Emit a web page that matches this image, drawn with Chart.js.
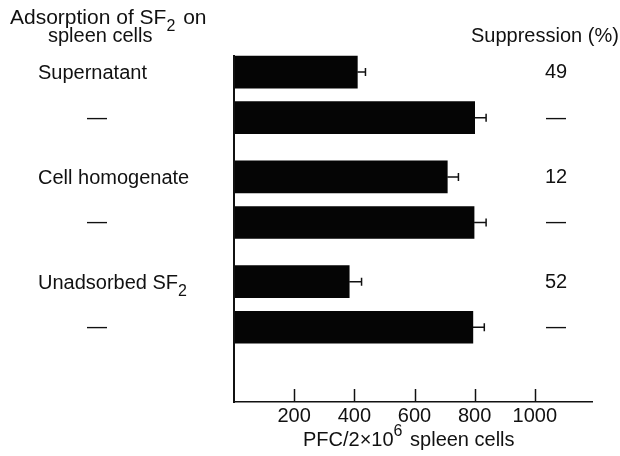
<!DOCTYPE html>
<html><head><meta charset="utf-8">
<script src="https://cdn.jsdelivr.net/npm/chart.js@4.4.0/dist/chart.umd.min.js"></script>
<style>html,body{margin:0;padding:0;background:#fff}</style>
</head><body>
<canvas id="c" width="620" height="456"></canvas>
<script>
const rowLabels = ['Supernatant', '—', 'Cell homogenate', '—', 'Unadsorbed SF₂', '—'];
const pfcValues = [410, 800, 709, 798, 383, 794];
const pfcErrors = [27, 38, 37, 40, 41, 38];
const suppression = ['49', '—', '12', '—', '52', '—'];
const xTicks = [200, 400, 600, 800, 1000];
const headerLeft = ['Adsorption of SF₂ on', 'spleen cells'];
const headerRight = 'Suppression (%)';
const xTitle = 'PFC/2×10⁶ spleen cells';

const FONT = "'Liberation Sans', Arial, Helvetica, sans-serif";
const INK = '#111';
Chart.defaults.font.family = FONT;
Chart.defaults.font.size = 20;
Chart.defaults.color = INK;

// layout helper: rows come in pairs, pairs separated by a larger gap
function rowPos(i) { return Math.floor(i / 2) * 2.3 + (i % 2); }

function richSegments(str) {
  const out = [];
  for (const ch of str) {
    if (ch === '₂') out.push({ t: '2', mode: 'sub' });
    else if (ch === '⁶') out.push({ t: '6', mode: 'sup' });
    else {
      const last = out[out.length - 1];
      if (last && last.mode === 'n') last.t += ch; else out.push({ t: ch, mode: 'n' });
    }
  }
  return out;
}
function richWidth(ctx, str, size) {
  let w = 0;
  for (const s of richSegments(str)) {
    ctx.font = (s.mode === 'n' ? size : 16) + 'px ' + FONT;
    w += ctx.measureText(s.t).width + (s.mode === 'n' ? 0 : 2);
  }
  return w;
}
function drawRich(ctx, str, x, baseline, align, size) {
  size = size || 20;
  let cx = x;
  if (align === 'center') cx = x - richWidth(ctx, str, size) / 2;
  ctx.textAlign = 'left';
  ctx.textBaseline = 'alphabetic';
  for (const s of richSegments(str)) {
    let y = baseline;
    if (s.mode === 'n') ctx.font = size + 'px ' + FONT;
    else { ctx.font = '16px ' + FONT; y = baseline + (s.mode === 'sub' ? 7 : -10); }
    ctx.fillText(s.t, cx, y);
    cx += ctx.measureText(s.t).width + (s.mode === 'n' ? 0 : 2);
  }
}

const decor = {
  id: 'decor',
  afterDatasetsDraw(chart) {
    const { ctx, chartArea: a, scales: { x, y } } = chart;
    ctx.save();
    ctx.strokeStyle = INK;
    ctx.fillStyle = INK;
    // vertical axis line
    const x0 = x.getPixelForValue(0);
    ctx.lineWidth = 2;
    ctx.beginPath(); ctx.moveTo(x0, a.top); ctx.lineTo(x0, a.bottom + 1); ctx.stroke();
    // inward tick marks
    ctx.lineWidth = 1.5;
    for (const v of xTicks) {
      const px = Math.round(x.getPixelForValue(v)) + 0.5;
      ctx.beginPath(); ctx.moveTo(px, a.bottom); ctx.lineTo(px, a.bottom - 13); ctx.stroke();
    }
    // error bars (upper side)
    ctx.lineWidth = 1.5;
    pfcValues.forEach((v, i) => {
      const py = y.getPixelForValue(rowPos(i));
      const xa = x.getPixelForValue(v), xb = x.getPixelForValue(v + pfcErrors[i]);
      ctx.beginPath();
      ctx.moveTo(xa, py); ctx.lineTo(xb, py);
      ctx.moveTo(xb, py - 4); ctx.lineTo(xb, py + 4);
      ctx.stroke();
    });
    // row labels and suppression values
    rowLabels.forEach((lab, i) => {
      const py = y.getPixelForValue(rowPos(i));
      if (lab === '—') drawRich(ctx, lab, 97, py + 6, 'center');
      else drawRich(ctx, lab, 38, py + 7, 'left');
      drawRich(ctx, suppression[i], 556, py + 6, 'center');
    });
    // headers
    drawRich(ctx, headerLeft[0], 10, 24, 'left', 21);
    drawRich(ctx, headerLeft[1], 48, 42, 'left');
    drawRich(ctx, headerRight, 471, 42, 'left');
    // x axis title
    drawRich(ctx, xTitle, 303, 446, 'left');
    ctx.restore();
  }
};

new Chart(document.getElementById('c'), {
  type: 'bar',
  data: {
    datasets: [{
      data: pfcValues.map((v, i) => ({ x: v, y: rowPos(i) })),
      backgroundColor: '#050505',
      borderWidth: 0,
      barThickness: 32
    }]
  },
  options: {
    indexAxis: 'y',
    responsive: false,
    animation: false,
    events: [],
    layout: { padding: { left: 234, top: 55, right: 28, bottom: 26 } },
    plugins: { legend: { display: false }, tooltip: { enabled: false } },
    scales: {
      y: { type: 'linear', reverse: true, offset: false, min: -0.375, max: 7.24, display: false },
      x: {
        type: 'linear', min: 0, max: 1190,
        afterBuildTicks: (s) => { s.ticks = xTicks.map(v => ({ value: v })); },
        grid: { display: false, drawTicks: false },
        border: { display: true, color: INK, width: 1.5 },
        ticks: { padding: 2, color: INK, font: { size: 20 }, maxRotation: 0, callback: (v) => String(v) }
      }
    }
  },
  plugins: [decor]
});
</script>
</body></html>
